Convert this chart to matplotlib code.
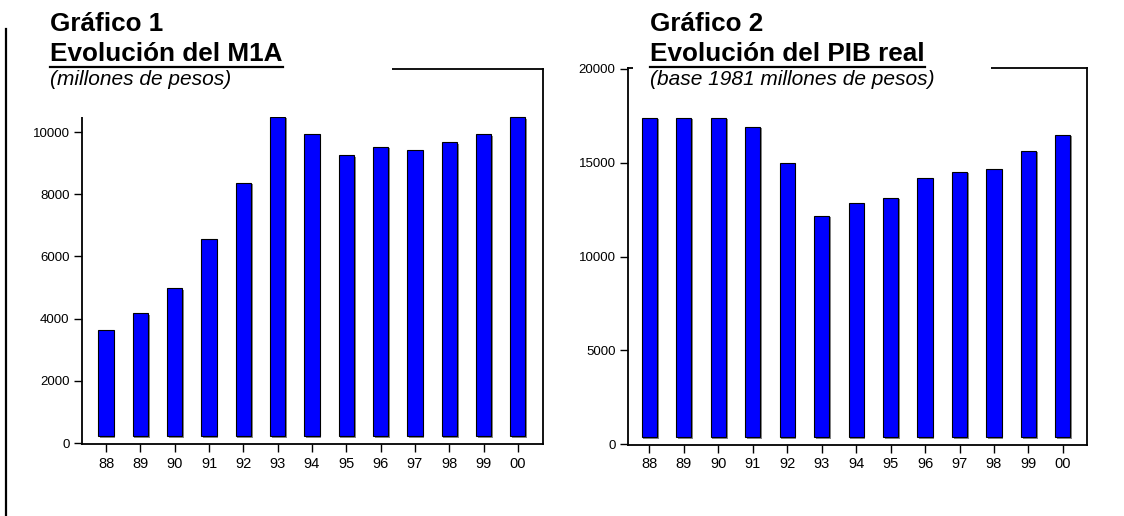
import matplotlib.pyplot as plt
from matplotlib import patheffects
from matplotlib.lines import Line2D
from matplotlib.patches import Rectangle

plt.rcParams['font.family'] = ['Liberation Sans', 'DejaVu Sans']

years = ['88', '89', '90', '91', '92', '93', '94', '95', '96', '97', '98', '99', '00']
m1a = [3630, 4170, 4980, 6560, 8370, 10490, 9945, 9260, 9530, 9430, 9680, 9930, 10480]
pib = [17400, 17400, 17400, 16920, 14960, 12170, 12850, 13140, 14170, 14520, 14670, 15650, 16500]

W, H = 1124, 516
fig = plt.figure(figsize=(W / 100, H / 100), dpi=100)


def fx(x):
    return x / W


def fy(y):
    return 1 - y / H


def bar_panel(rect, values, ylim, yticks, floor, xlim):
    ax = fig.add_axes(rect)
    x = range(len(values))
    heights = [v - floor for v in values]
    bars = ax.bar(x, heights, bottom=floor, width=0.44, color='#0000ff',
                  edgecolor='black', linewidth=0.8, zorder=3)
    for b in bars:
        b.set_path_effects([patheffects.SimplePatchShadow(offset=(1.2, -1.2),
                                                          shadow_rgbFace='#888888', alpha=1),
                            patheffects.Normal()])
    ax.set_xlim(*xlim)
    ax.set_ylim(*ylim)
    ax.set_xticks(list(x))
    ax.set_xticklabels(years, fontsize=10.5)
    ax.set_yticks(yticks)
    ax.set_yticklabels([str(t) for t in yticks], fontsize=9.5)
    ax.tick_params(axis='both', direction='out', length=6, width=1, pad=3)
    for s in ax.spines.values():
        s.set_linewidth(1.3)
    return ax


ax1 = bar_panel([fx(82), 1 - 444 / H, fx(543) - fx(82), (444 - 69) / H],
                m1a, (-32, 12026), [0, 2000, 4000, 6000, 8000, 10000], 225, (-0.70, 12.73))
ax2 = bar_panel([fx(628), 1 - 445 / H, fx(1087) - fx(628), (445 - 68) / H],
                pib, (-53, 20053), [0, 5000, 10000, 15000, 20000], 375, (-0.62, 12.70))

# white blocks behind the titles hide part of the frames
fig.add_artist(Rectangle((fx(45), fy(117)), fx(392) - fx(45), 117 / H,
                         transform=fig.transFigure, facecolor='white',
                         edgecolor='none', zorder=2))
fig.add_artist(Rectangle((fx(633), fy(92)), fx(991) - fx(633), 92 / H,
                         transform=fig.transFigure, facecolor='white',
                         edgecolor='none', zorder=2))

titles = [
    (50, 'Gráfico 1', 'Evolución del M1A', '(millones de pesos)'),
    (650, 'Gráfico 2', 'Evolución del PIB real', '(base 1981 millones de pesos)'),
]
heads = []
for x0, t1, t2, t3 in titles:
    fig.text(fx(x0), fy(31), t1, fontsize=18.8, fontweight='bold', va='baseline', zorder=3)
    heads.append(fig.text(fx(x0), fy(61), t2, fontsize=18.8, fontweight='bold',
                          va='baseline', zorder=3))
    fig.text(fx(x0), fy(85), t3, fontsize=15, style='italic', va='baseline', zorder=3)

# underline the second title line
fig.canvas.draw()
for t in heads:
    bb = t.get_window_extent()
    fig.add_artist(Line2D([bb.x0 / W, bb.x1 / W], [fy(67), fy(67)],
                          transform=fig.transFigure, color='black', lw=1.6, zorder=3))

# page rule at the left edge
fig.add_artist(Line2D([fx(6), fx(6)], [fy(29), 0], transform=fig.transFigure,
                      color='black', lw=1.6))

fig.savefig('out.png', dpi=100)
